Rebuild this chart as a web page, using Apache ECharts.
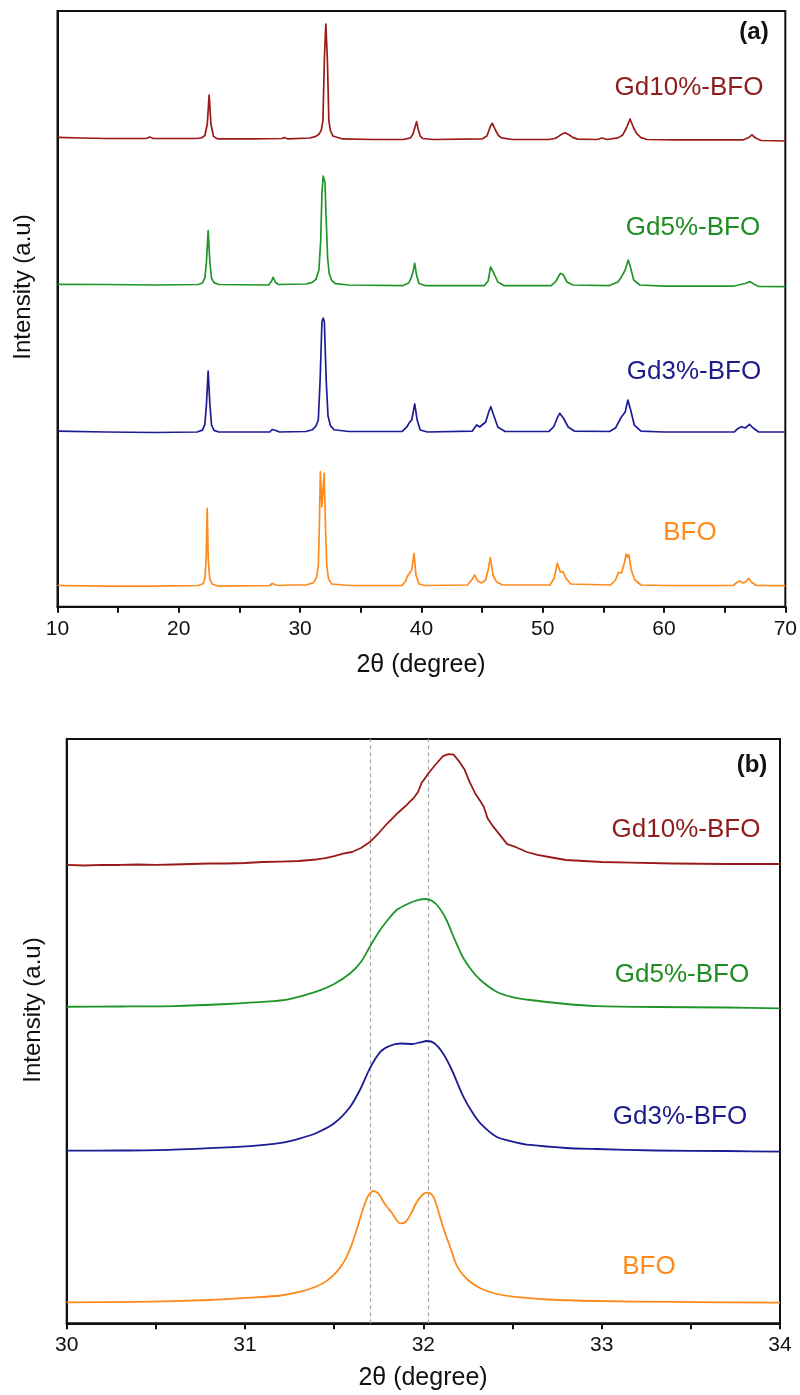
<!DOCTYPE html>
<html>
<head>
<meta charset="utf-8">
<title>XRD patterns of Gd-doped BFO</title>
<script src="https://cdn.jsdelivr.net/npm/echarts@6/dist/echarts.min.js"></script>
<style>
  html, body { margin: 0; padding: 0; background: #fff; }
  #chart { width: 800px; height: 1395px; }
</style>
</head>
<body>
<div id="chart"></div>
<script>
// Sample names, top to bottom in each panel
const samples = ['Gd10%-BFO', 'Gd5%-BFO', 'Gd3%-BFO', 'BFO'];

// Panel (a): full scans, 2θ = 10–70°, stacked intensity in a.u. [2θ, I]
const gd10Full = [
  [10.0,78.77],[12.0,78.68],[14.0,78.60],[16.0,78.60],[17.3,78.60],[17.6,78.85],[17.9,78.60],
  [19.5,78.60],[21.5,78.60],[21.9,78.72],[22.15,79.10],[22.35,81.03],[22.5,85.90],[22.65,81.03],[22.85,79.00],[23.1,78.62],
  [23.3,78.52],[26.0,78.52],[28.5,78.60],[28.7,78.77],[29.0,78.52],[30.8,78.68],[31.3,78.95],[31.55,79.30],[31.75,80.00],
  [31.88,81.60],[32.0,91.78],[32.12,97.82],[32.25,91.78],[32.37,81.60],[32.5,79.90],[32.7,79.02],[33.5,78.52],
  [36.0,78.43],[38.5,78.43],[39.1,78.70],[39.3,79.30],[39.45,80.36],[39.6,81.42],[39.75,80.02],[39.9,79.00],[40.1,78.60],
  [41.0,78.43],[45.0,78.52],[45.4,79.02],[45.7,80.70],[45.85,81.15],[46.1,80.02],[46.35,79.10],[46.6,78.70],
  [47.5,78.43],[50.5,78.43],[51.0,78.60],[51.3,78.95],[51.6,79.35],[51.85,79.57],[52.2,79.19],[52.5,78.75],[52.9,78.50],
  [54.5,78.43],[54.9,78.68],[55.3,78.43],[56.2,78.70],[56.6,79.20],[56.9,80.36],[57.2,81.87],[57.5,80.36],
  [57.75,79.40],[58.1,78.75],[58.6,78.43],[61.0,78.35],[66.5,78.35],[67.0,78.77],[67.25,79.19],[67.55,78.68],
  [68.0,78.26],[70.0,78.18]
];
const gd5Full = [
  [10.0,54.12],[14.0,54.09],[18.0,54.00],[21.6,54.09],[21.95,54.35],[22.15,55.20],[22.28,57.90],[22.42,63.12],
  [22.56,57.90],[22.7,55.10],[22.9,54.40],[23.3,54.09],[27.4,54.00],[27.65,54.67],[27.78,55.30],[27.95,54.51],
  [28.2,54.09],[30.5,54.17],[31.0,54.45],[31.3,54.95],[31.55,56.52],[31.7,61.50],[31.8,69.50],[31.9,72.30],[31.95,72.46],
  [32.05,71.20],[32.15,65.00],[32.27,58.50],[32.4,55.90],[32.6,54.80],[32.9,54.25],[34.0,54.00],[38.5,53.91],[38.95,54.34],
  [39.15,55.18],[39.3,56.18],[39.45,57.65],[39.6,55.68],[39.8,54.26],[40.3,53.91],[45.2,53.91],
  [45.5,54.67],[45.7,57.03],[45.8,57.36],[46.0,55.85],[46.3,54.51],[46.8,53.91],[50.7,53.91],
  [51.1,54.67],[51.45,55.97],[51.7,55.68],[52.0,54.51],[52.5,54.00],[55.5,53.91],[56.2,54.51],
  [56.5,55.40],[56.8,56.52],[57.05,58.20],[57.25,56.85],[57.5,54.84],[58.0,54.00],[60.0,53.83],
  [65.8,53.83],[66.3,54.09],[66.7,54.26],[67.1,54.57],[67.4,54.17],[67.8,53.75],[70.0,53.72]
];
const gd3Full = [
  [10.0,29.49],[14.0,29.33],[18.0,29.24],[21.5,29.33],[21.95,29.65],[22.15,30.60],[22.28,34.00],[22.42,39.57],
  [22.56,34.00],[22.7,30.50],[22.9,29.60],[23.3,29.33],[27.5,29.33],[27.7,29.75],[27.83,30.05],[28.0,29.58],
  [28.3,29.33],[30.5,29.41],[31.0,29.70],[31.3,30.30],[31.5,31.34],[31.65,38.05],[31.8,47.79],[31.9,48.46],
  [32.0,47.79],[32.15,38.05],[32.3,32.00],[32.5,30.40],[32.8,29.70],[34.0,29.41],[38.4,29.41],[38.8,30.17],
  [39.0,30.89],[39.2,31.34],[39.45,34.03],[39.65,31.34],[39.9,29.66],[40.5,29.33],[44.2,29.49],
  [44.55,30.50],[44.8,30.17],[45.3,31.01],[45.55,32.69],[45.72,33.57],[45.95,32.18],[46.3,30.17],
  [46.9,29.41],[50.5,29.41],[50.9,30.17],[51.2,31.68],[51.4,32.47],[51.7,31.68],[52.1,30.17],
  [52.6,29.49],[55.5,29.41],[56.0,30.00],[56.5,31.90],[56.8,32.69],[57.02,34.70],[57.25,33.02],
  [57.55,30.50],[58.1,29.49],[60.0,29.33],[65.8,29.33],[66.1,29.92],[66.4,30.22],[66.7,30.00],
  [67.05,30.62],[67.35,30.00],[67.8,29.33],[70.0,29.33]
];
const bfoFull = [
  [10.0,3.56],[14.0,3.47],[18.0,3.47],[21.6,3.56],[22.0,3.85],[22.15,4.80],[22.25,7.80],[22.34,16.52],
  [22.43,7.80],[22.55,4.70],[22.75,3.80],[23.2,3.47],[27.5,3.56],[27.7,3.89],[27.83,4.03],[28.0,3.64],
  [28.3,3.56],[29.2,3.64],[30.5,3.64],[31.1,4.05],[31.35,4.90],[31.5,6.80],[31.58,12.87],[31.67,22.66],
  [31.8,16.79],[31.98,22.39],[32.1,12.87],[32.2,6.80],[32.35,4.60],[32.6,3.81],[34.0,3.56],[38.4,3.56],
  [38.7,4.31],[38.82,5.04],[38.95,4.73],[39.2,6.16],[39.39,8.96],[39.55,5.32],[39.8,3.81],
  [40.3,3.56],[43.8,3.64],[44.15,4.48],[44.39,5.32],[44.65,4.31],[44.95,3.98],[45.3,4.48],
  [45.5,6.16],[45.68,8.23],[45.9,5.32],[46.2,4.15],[46.7,3.64],[50.6,3.64],[50.95,4.82],
  [51.2,7.29],[51.45,5.83],[51.67,5.88],[51.9,4.82],[52.3,3.81],[55.6,3.64],[56.0,4.48],
  [56.25,5.77],[56.5,5.66],[56.75,7.50],[56.88,8.85],[57.0,8.34],[57.1,8.68],[57.3,6.16],
  [57.6,4.48],[58.1,3.64],[60.0,3.56],[65.7,3.56],[66.0,4.06],[66.22,4.31],[66.5,3.98],
  [66.75,4.15],[66.98,4.77],[67.2,4.15],[67.6,3.56],[70.0,3.53]
];

// Panel (b): zoom on the (104)/(110) reflections, 2θ = 30–34°
const gd10Zoom = [
  [30.00,78.44],[30.10,78.35],[30.20,78.44],[30.30,78.44],[30.40,78.52],[30.50,78.47],[30.60,78.52],
  [30.70,78.61],[30.80,78.69],[30.90,78.69],[31.00,78.78],[31.10,78.95],[31.20,79.03],[31.30,79.12],
  [31.40,79.38],[31.45,79.63],[31.50,79.97],[31.55,80.40],[31.60,80.66],[31.65,81.35],[31.70,82.37],
  [31.75,83.91],[31.80,85.62],[31.85,87.16],[31.90,88.53],[31.95,90.07],[31.97,90.92],[31.99,92.47],
  [32.03,94.18],[32.07,95.68],[32.11,97.06],[32.14,97.40],[32.17,97.32],[32.20,96.20],[32.23,94.83],
  [32.26,92.61],[32.29,90.72],[32.32,89.35],[32.34,88.33],[32.36,86.45],[32.39,85.08],[32.43,83.54],
  [32.47,82.00],[32.52,81.48],[32.58,80.66],[32.64,80.15],[32.72,79.72],[32.80,79.29],[32.90,79.12],
  [33.00,78.95],[33.16,78.83],[33.40,78.69],[33.70,78.61],[34.00,78.61]
];
const gd5Zoom = [
  [30.00,54.18],[30.30,54.22],[30.60,54.30],[30.90,54.65],[31.12,55.04],[31.25,55.50],[31.40,56.75],
  [31.50,58.07],[31.59,59.90],[31.65,61.83],[31.70,64.45],[31.75,66.97],[31.80,69.02],[31.85,70.73],
  [31.90,71.59],[31.94,72.15],[31.98,72.53],[32.01,72.62],[32.05,72.28],[32.09,71.08],[32.13,69.02],
  [32.17,66.11],[32.22,62.74],[32.27,60.46],[32.32,58.75],[32.41,56.75],[32.50,55.84],[32.60,55.33],
  [32.80,54.65],[32.97,54.30],[33.30,54.13],[33.70,54.05],[34.00,53.91]
];
const gd3Zoom = [
  [30.00,29.54],[30.30,29.57],[30.60,29.74],[31.03,30.34],[31.20,30.86],[31.31,31.66],[31.40,32.57],
  [31.50,34.23],[31.59,37.07],[31.65,40.27],[31.70,43.64],[31.76,46.48],[31.81,47.46],[31.87,47.89],
  [31.94,47.80],[31.98,48.06],[32.02,48.31],[32.06,47.97],[32.11,46.21],[32.16,43.35],[32.22,39.07],
  [32.27,36.33],[32.32,34.23],[32.41,31.94],[32.50,31.11],[32.60,30.52],[32.80,30.00],[32.97,29.83],
  [33.30,29.57],[33.70,29.49],[34.00,29.37]
];
const bfoZoom = [
  [30.00,3.59],[30.40,3.65],[30.80,3.99],[31.03,4.38],[31.20,4.76],[31.31,5.41],[31.40,6.30],
  [31.46,7.30],[31.52,9.00],[31.56,10.80],[31.60,13.60],[31.63,16.40],[31.66,19.39],[31.69,21.79],[31.72,22.64],
  [31.75,22.13],[31.78,20.59],[31.82,19.05],[31.87,17.11],[31.90,17.34],[31.93,18.71],[31.96,20.59],
  [32.00,22.13],[32.03,22.35],[32.06,21.44],[32.11,16.53],[32.15,13.06],[32.19,9.69],[32.25,7.41],
  [32.32,5.99],[32.40,5.10],[32.50,4.55],[32.70,4.07],[32.97,3.82],[33.40,3.65],[34.00,3.53]
];

// Reference 2θ positions of the BFO doublet (dashed guides in panel b)
const doubletPositions = [31.70, 32.03];

const fullSeries = [gd10Full, gd5Full, gd3Full, bfoFull];
const zoomSeries = [gd10Zoom, gd5Zoom, gd3Zoom, bfoZoom];

const lineColors  = ['#9a1a1a', '#20962a', '#1c1c94', '#ff8a1c'];
const labelColors = ['#8e1c1c', '#1f8e22', '#1c1c8c', '#ff8a1c'];

const FONT = '"Liberation Sans", Arial, Helvetica, sans-serif';
const INK = '#111';

function xAxisCfg(gridIndex, min, max, interval, margin) {
  return {
    type: 'value', gridIndex, min, max, interval,
    axisLine: { show: true, onZero: false, lineStyle: { color: INK, width: 2 } },
    axisTick: { show: true, inside: false, length: 6, lineStyle: { color: INK, width: 2 } },
    minorTick: { show: true, splitNumber: 2, length: 6, lineStyle: { color: INK, width: 2 } },
    axisLabel: { show: true, color: INK, fontSize: 21, fontFamily: FONT, margin },
    splitLine: { show: false }
  };
}
function yAxisCfg(gridIndex) {
  return {
    type: 'value', gridIndex, min: 0, max: 100,
    axisLine: { show: true, lineStyle: { color: INK, width: 2 } },
    axisTick: { show: false }, axisLabel: { show: false }, splitLine: { show: false }
  };
}

const series = [];
fullSeries.forEach((d, i) => series.push({
  type: 'line', name: samples[i], xAxisIndex: 0, yAxisIndex: 0, data: d,
  showSymbol: false, smooth: false,
  lineStyle: { color: lineColors[i], width: 1.7, join: 'round' }
}));
zoomSeries.forEach((d, i) => {
  const s = {
    type: 'line', name: samples[i], xAxisIndex: 1, yAxisIndex: 1, data: d,
    showSymbol: false, smooth: i === 0 ? false : 0.25,
    lineStyle: { color: lineColors[i], width: 1.8, join: 'round' }, z: 3
  };
  if (i === 3) {
    s.markLine = {
      silent: true, symbol: 'none', label: { show: false }, z: 1,
      lineStyle: { color: '#a8a8a8', width: 1.2, type: [4, 3] },
      data: doubletPositions.map(v => ({ xAxis: v }))
    };
  }
  series.push(s);
});

function txt(x, y, text, color, size, extra) {
  return Object.assign({
    type: 'text', x, y,
    style: { text, fill: color, font: (extra && extra.weight ? extra.weight + ' ' : '') + size + 'px ' + FONT,
             align: 'center', verticalAlign: 'middle' }
  }, extra && extra.rotation !== undefined ? { rotation: extra.rotation } : {});
}

const labelPosA = [[689, 88], [693, 228], [694, 372], [690, 533]];
const labelPosB = [[686, 830], [682, 975], [680, 1117], [649, 1267]];

const graphic = [];
samples.forEach((name, i) => {
  graphic.push(txt(labelPosA[i][0], labelPosA[i][1], name, labelColors[i], 26));
  graphic.push(txt(labelPosB[i][0], labelPosB[i][1], name, labelColors[i], 26));
});
graphic.push(txt(754, 32, '(a)', INK, 24, { weight: 'bold' }));
graphic.push(txt(752, 765, '(b)', INK, 24, { weight: 'bold' }));
graphic.push(txt(23, 287, 'Intensity (a.u)', INK, 24, { rotation: Math.PI / 2 }));
graphic.push(txt(33, 1010, 'Intensity (a.u)', INK, 24, { rotation: Math.PI / 2 }));
graphic.push(txt(421, 665, '2\u03b8 (degree)', INK, 25));
graphic.push(txt(423, 1378, '2\u03b8 (degree)', INK, 25));

const chart = echarts.init(document.getElementById('chart'), null, { renderer: 'canvas' });
chart.setOption({
  animation: false,
  backgroundColor: '#fff',
  grid: [
    { left: 57.5, top: 11, width: 728.2, height: 595.7, show: true, borderColor: INK, borderWidth: 2, backgroundColor: 'transparent' },
    { left: 66.7, top: 739, width: 713.3, height: 584.3, show: true, borderColor: INK, borderWidth: 2, backgroundColor: 'transparent' }
  ],
  xAxis: [xAxisCfg(0, 10, 70, 10, 12), xAxisCfg(1, 30, 34, 1, 11)],
  yAxis: [yAxisCfg(0), yAxisCfg(1)],
  series,
  graphic
});
</script>
</body>
</html>
